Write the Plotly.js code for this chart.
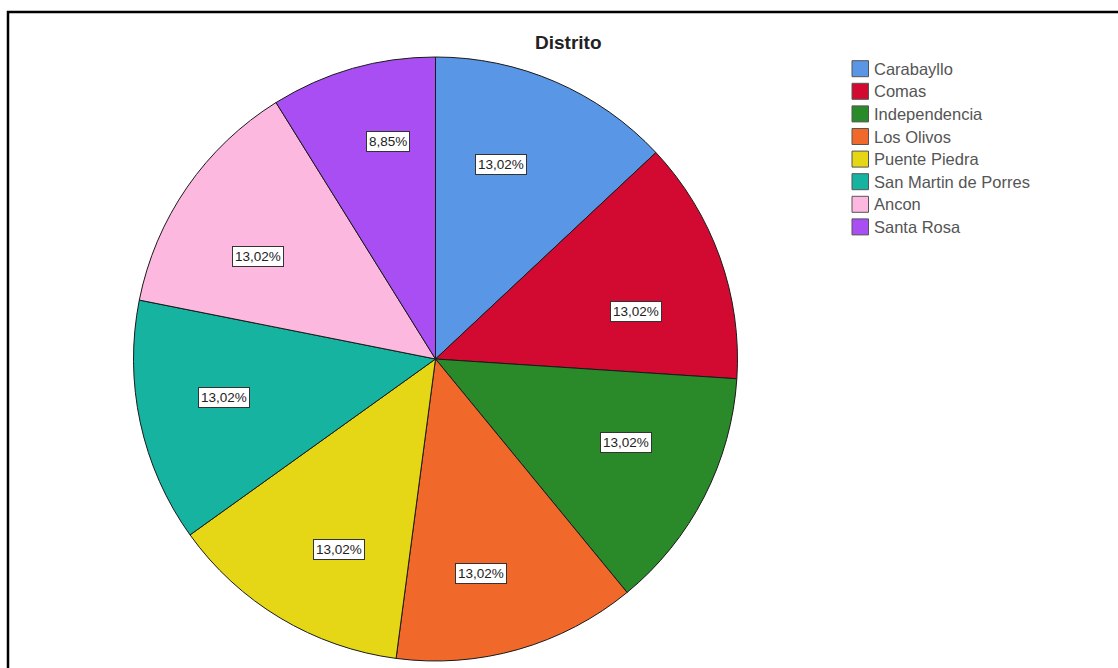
<!DOCTYPE html>
<html>
<head>
<meta charset="utf-8">
<script src="https://cdn.plot.ly/plotly-3.0.1.min.js"></script>
<style>html,body{margin:0;padding:0;background:#fff;}#chart{width:1118px;height:668px;}</style>
</head>
<body>
<div id="chart"></div>
<script>
const categories = ["Carabayllo","Comas","Independencia","Los Olivos","Puente Piedra","San Martin de Porres","Ancon","Santa Rosa"];
const counts = [25,25,25,25,25,25,25,17];
const colors = ["#5A96E6","#D20A32","#2A8A2A","#F0692A","#E5D716","#16B3A0","#FCB8DE","#A84EF2"];
const titleText = "Distrito";

// label placement tweaks (layout only): radius fraction and angle offset (deg) from slice middle
const labelRadius = [0.681,0.683,0.689,0.725,0.709,0.712,0.679,0.737];
const labelAngleOffset = [-4.8,6.5,-3.4,4,-4,2,-4.6,3.6];

const W = 1118, H = 668;
const cx = 435.5, cy = 359, R = 302;
const total = counts.reduce((a,b)=>a+b,0);
const pctText = counts.map(v => (v/total*100).toFixed(2).replace('.', ',') + '%');
const FONT = 'Liberation Sans, Arial, sans-serif';

const trace = {
  type: 'pie',
  labels: categories,
  values: counts,
  sort: false,
  direction: 'clockwise',
  rotation: 0,
  marker: {colors: colors, line: {color: '#1a1a1a', width: 1}},
  textinfo: 'none',
  hoverinfo: 'label+percent',
  showlegend: false,
  domain: {x: [(cx-R)/W, (cx+R)/W], y: [(H-cy-R)/H, (H-cy+R)/H]}
};

const annotations = [];
const shapes = [];
// slice labels
let cum = 0;
counts.forEach((v,i) => {
  const mid = (cum + v/2) / total * 360 + labelAngleOffset[i];
  cum += v;
  const a = mid * Math.PI / 180;
  const r = labelRadius[i] * R;
  const px = cx + r * Math.sin(a);
  const py = cy - r * Math.cos(a);
  annotations.push({
    x: px / W, y: 1 - py / H, xref: 'paper', yref: 'paper',
    xanchor: 'center', yanchor: 'middle',
    text: pctText[i], showarrow: false,
    font: {family: FONT, size: 13.5, color: '#222'},
    bgcolor: '#ffffff', bordercolor: '#333', borderwidth: 1, borderpad: 2
  });
});
// title
annotations.push({
  x: 569 / W, y: 1 - 43 / H, xref: 'paper', yref: 'paper',
  xanchor: 'center', yanchor: 'middle',
  text: '<b>' + titleText + '</b>', showarrow: false,
  font: {family: FONT, size: 19, color: '#222'}
});
// manual legend
categories.forEach((c,i) => {
  const yc = 68.7 + i * 22.6;
  shapes.push({
    type: 'rect', xref: 'paper', yref: 'paper',
    x0: 852 / W, x1: 868.5 / W, y0: 1 - (yc + 8) / H, y1: 1 - (yc - 8) / H,
    fillcolor: colors[i], line: {color: '#555', width: 1}
  });
  annotations.push({
    x: 872 / W, y: 1 - yc / H, xref: 'paper', yref: 'paper',
    xanchor: 'left', yanchor: 'middle',
    text: c, showarrow: false,
    font: {family: FONT, size: 16.5, color: '#555'}
  });
});
// outer frame
shapes.push({
  type: 'path', xref: 'paper', yref: 'paper',
  path: `M ${8/W} -0.01 L ${8/W} ${1-12/H} L 1.01 ${1-12/H}`,
  line: {color: '#000', width: 2.5}
});

const layout = {
  width: W, height: H,
  margin: {l: 0, r: 0, t: 0, b: 0},
  paper_bgcolor: '#fff',
  showlegend: false,
  annotations: annotations,
  shapes: shapes
};

Plotly.newPlot('chart', [trace], layout, {displayModeBar: false, staticPlot: true});
</script>
</body>
</html>
